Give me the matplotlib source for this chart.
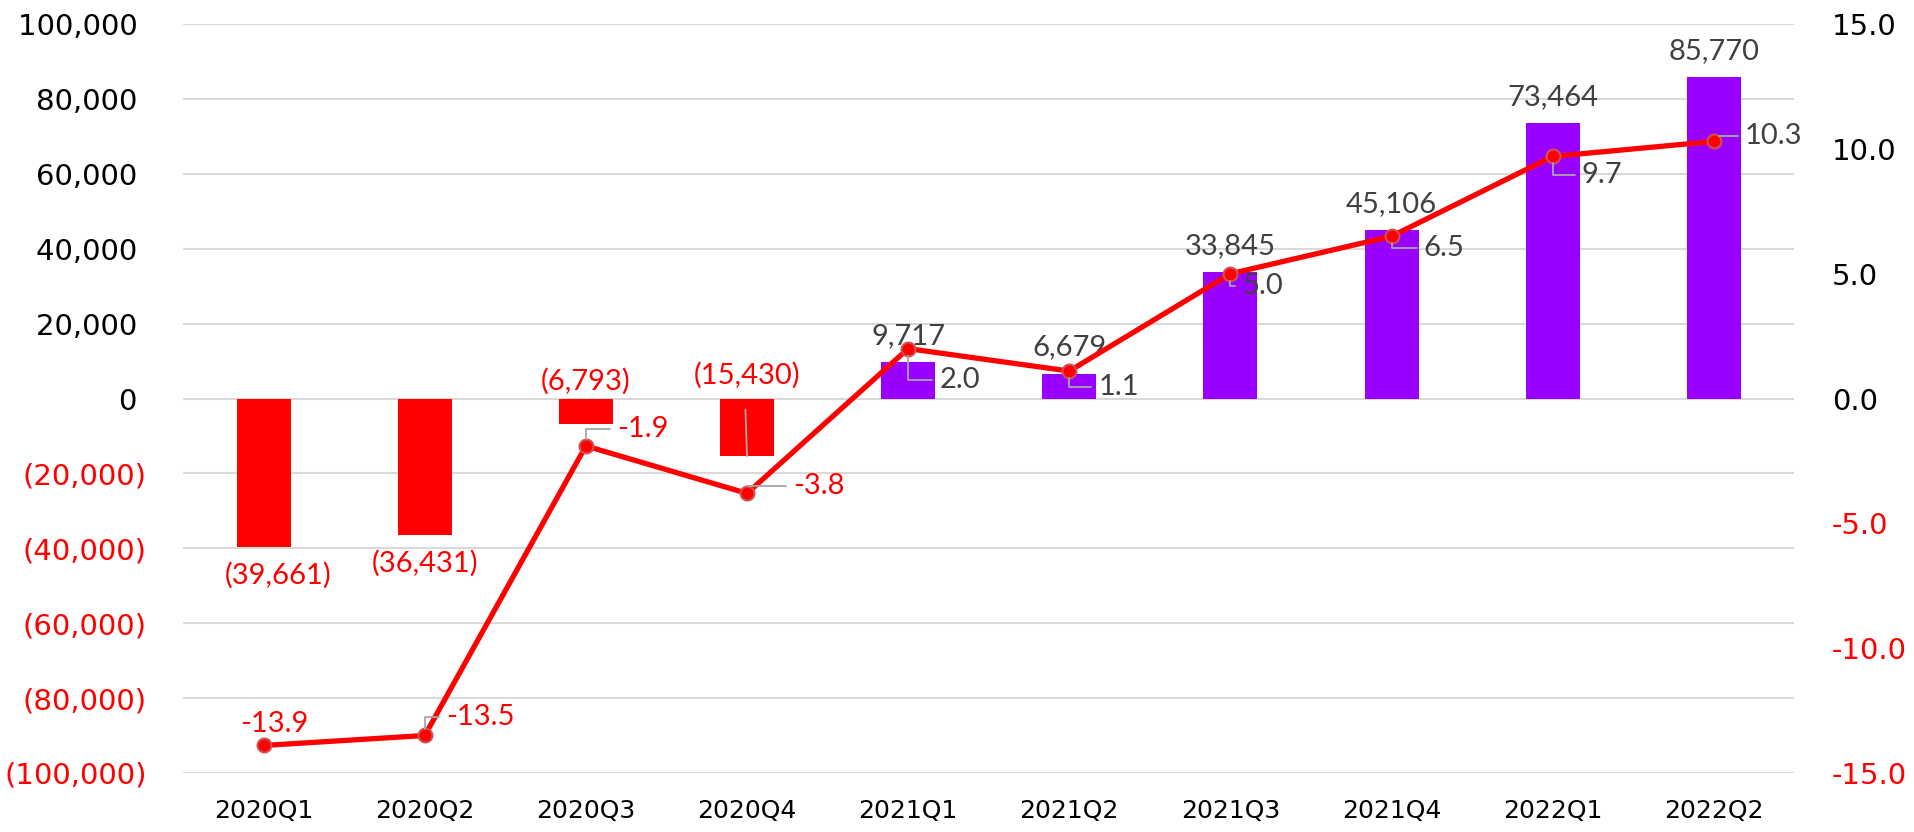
import matplotlib
matplotlib.use("Agg")
import matplotlib.pyplot as plt
import numpy as np

quarters = ['2020Q1', '2020Q2', '2020Q3', '2020Q4', '2021Q1',
            '2021Q2', '2021Q3', '2021Q4', '2022Q1', '2022Q2']
profit = [-39661, -36431, -6793, -15430, 9717, 6679, 33845, 45106, 73464, 85770]
growth = [-13.9, -13.5, -1.9, -3.8, 2.0, 1.1, 5.0, 6.5, 9.7, 10.3]

RED = '#FF0000'
PURPLE = '#9900FF'
GRAY = '#404040'
LEAD = '#A6A6A6'

# label offsets in pixels (dx, dy) relative to the point, and whether a leader line is drawn
line_offsets = [(11, 21, 'center', False), (21, 18, 'left', True), (31, 17, 'left', True),
                (46, 7, 'left', True), (31, -31, 'left', True), (29, -16, 'left', True),
                (12, -12, 'left', True), (32, -12, 'left', True), (29, -19, 'left', True),
                (31, 5, 'left', True)]


def fmt_left(v):
    if v < 0:
        return '({:,.0f})'.format(-v)
    return '{:,.0f}'.format(v) + ' '


def bar_label(v):
    if v < 0:
        return '({:,.0f})'.format(-v)
    return '{:,.0f}'.format(v)


def main():
    fig = plt.figure(figsize=(19.15, 8.32), dpi=100)
    ax = fig.add_axes([0.0956, 0.071, 0.8414, 0.900])
    ax2 = ax.twinx()

    x = np.arange(len(quarters))
    colors = [RED if v < 0 else PURPLE for v in profit]
    ax.bar(x, profit, width=0.335, color=colors, zorder=2)
    ax.set_ylim(-100000, 100000)
    ax.set_xlim(-0.5, len(quarters) - 0.5)
    yt = np.arange(-100000, 100001, 20000)
    ax.set_yticks(yt)
    ax.set_yticklabels([fmt_left(v) for v in yt], fontsize=21, family='DejaVu Sans')
    for lab, v in zip(ax.get_yticklabels(), yt):
        lab.set_color(RED if v < 0 else 'black')
    ax.set_xticks(x)
    ax.set_xticklabels(quarters, fontsize=18, family='DejaVu Sans')
    ax.tick_params(axis='y', length=0, pad=26)
    ax.tick_params(axis='x', length=0, pad=19)
    ax.grid(axis='y', color='#D9D9D9', lw=1.5, zorder=0)
    ax.set_axisbelow(True)
    for s in ax.spines.values():
        s.set_visible(False)
    for s in ax2.spines.values():
        s.set_visible(False)

    # bar labels
    for i, v in enumerate(profit):
        lab = bar_label(v)
        if v > 0:
            ax.annotate(lab, (x[i], v), xytext=(0, 13), textcoords='offset pixels',
                        ha='center', va='bottom', fontsize=21, family='Lato', color=GRAY, zorder=5)
        elif i < 2:
            dx = 14 if i == 0 else 0
            ax.annotate(lab, (x[i], v), xytext=(dx, -15), textcoords='offset pixels',
                        ha='center', va='top', fontsize=21, family='Lato', color=RED, zorder=5)
        elif i == 2:
            ax.annotate(lab, (x[i], 0), xytext=(0, 4), textcoords='offset pixels',
                        ha='center', va='bottom', fontsize=21, family='Lato', color=RED, zorder=5)
        else:
            ax.annotate(lab, (x[i], 0), xytext=(0, 10), textcoords='offset pixels',
                        ha='center', va='bottom', fontsize=21, family='Lato', color=RED, zorder=5)
            ax.annotate('', xy=(x[i], v), xytext=(x[i] - 0.012, 0),
                        arrowprops=dict(arrowstyle='-', color=LEAD, lw=1.3, shrinkA=-8, shrinkB=0),
                        zorder=5)

    ax2.plot(x, growth, color=RED, lw=3.8, marker='o', markersize=10,
             markerfacecolor=RED, markeredgecolor='#D05050', markeredgewidth=1.5, zorder=4)
    ax2.set_ylim(-15, 15)
    rt = np.arange(-15, 15.1, 5)
    ax2.set_yticks(rt)
    ax2.set_yticklabels(['{:.1f}'.format(v) for v in rt], fontsize=21, family='DejaVu Sans')
    for lab, v in zip(ax2.get_yticklabels(), rt):
        lab.set_color(RED if v < 0 else 'black')
    ax2.tick_params(axis='y', length=0, pad=27)

    for i, v in enumerate(growth):
        dx, dy, ha, lead = line_offsets[i]
        col = RED if v < 0 else GRAY
        props = None
        if lead:
            props = dict(arrowstyle='-', color=LEAD, lw=1.3, shrinkA=3, shrinkB=5,
                         connectionstyle='angle,angleA=0,angleB=90,rad=0')
        ax2.annotate('{:.1f}'.format(v), (x[i], v), xytext=(dx, dy), textcoords='offset pixels',
                     ha=ha, va='center', fontsize=21, family='Lato', color=col, zorder=6,
                     arrowprops=props)

    fig.savefig('out.png', dpi=100)


if __name__ == '__main__':
    main()
